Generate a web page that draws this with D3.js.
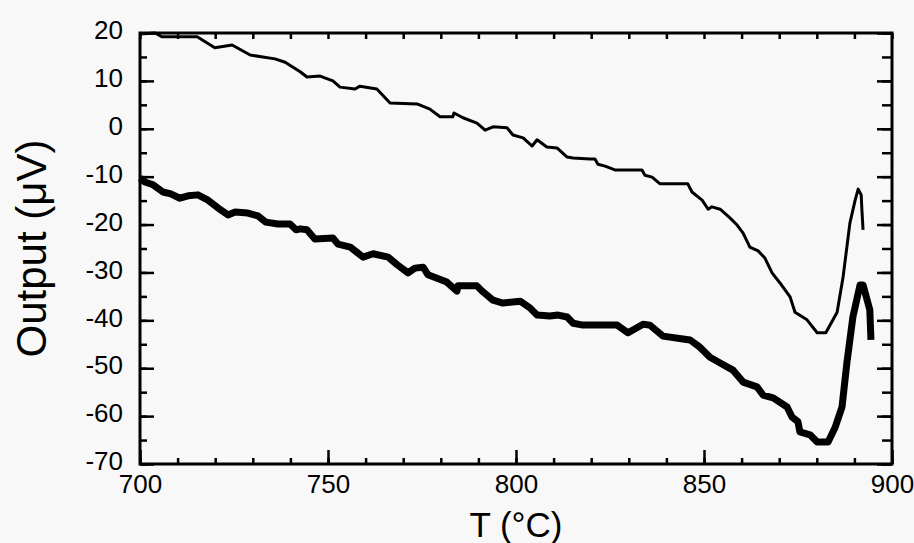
<!DOCTYPE html>
<html>
<head>
<meta charset="utf-8">
<script src="https://cdn.jsdelivr.net/npm/d3@7"></script>
<style>
  html, body { margin: 0; padding: 0; background: #f8f8f8; }
  svg { display: block; font-family: "Liberation Sans", Arial, sans-serif; }
</style>
</head>
<body>
<div id="wrapper"></div>
<script>
// upper (thin) trace
const thinT = [700.0, 704.0, 705.9, 715.2, 719.9, 724.5, 729.3, 735.9, 738.6, 742.6, 744.4, 747.9, 751.3, 753.2, 757.2, 758.5, 763.0, 766.5, 773.7, 777.1, 779.8, 783.2, 783.5, 785.9, 789.6, 791.8, 793.9, 797.6, 799.2, 801.9, 804.3, 805.6, 808.2, 810.9, 813.6, 815.2, 819.7, 821.0, 821.8, 823.7, 826.3, 833.5, 834.3, 836.2, 838.3, 845.7, 846.8, 849.5, 851.1, 852.1, 854.3, 856.9, 858.8, 860.4, 862.2, 864.4, 866.2, 868.1, 870.2, 872.9, 874.2, 877.4, 880.1, 882.4, 885.4, 887.0, 888.8, 890.2, 891.0, 891.8, 892.0, 892.3]
const thinV = [19.8, 20.0, 19.2, 19.2, 16.9, 17.5, 15.4, 14.6, 13.9, 11.9, 10.8, 11.0, 10.0, 8.7, 8.3, 8.9, 8.3, 5.4, 5.2, 4.1, 2.5, 2.5, 3.3, 2.3, 1.2, -0.3, 0.4, 0.2, -1.3, -1.9, -3.6, -2.3, -3.8, -4.0, -5.9, -6.1, -6.3, -6.3, -7.4, -7.8, -8.6, -8.6, -9.7, -10.1, -11.5, -11.5, -13.2, -14.9, -16.8, -16.3, -16.8, -18.6, -20.1, -21.8, -24.7, -25.5, -27.0, -30.1, -32.2, -35.1, -38.3, -39.9, -42.6, -42.6, -38.3, -30.9, -19.7, -14.9, -12.6, -13.8, -17.0, -21.1]

// lower (thick) trace
const thickT = [700.0, 701.3, 703.5, 706.1, 708.2, 710.6, 712.8, 715.4, 718.1, 720.7, 723.4, 725.3, 728.7, 731.4, 733.5, 736.7, 739.9, 741.5, 742.6, 744.4, 746.5, 751.3, 752.7, 755.9, 759.3, 762.0, 766.0, 768.4, 771.3, 773.1, 775.3, 776.6, 781.6, 784.3, 784.6, 789.6, 791.0, 793.9, 796.5, 801.1, 803.7, 805.6, 809.0, 811.2, 813.6, 815.2, 817.8, 822.3, 826.9, 829.8, 833.8, 835.6, 839.1, 844.4, 846.3, 848.9, 851.6, 854.3, 857.7, 860.4, 864.1, 865.7, 868.4, 872.1, 873.4, 875.0, 875.5, 878.2, 880.1, 883.0, 884.8, 886.7, 888.0, 889.6, 891.5, 892.3, 894.1, 894.4]
const thickV = [-10.3, -11.1, -11.7, -13.2, -13.6, -14.5, -14.0, -13.8, -14.9, -16.5, -18.0, -17.4, -17.6, -18.2, -19.5, -19.9, -19.9, -21.1, -20.9, -21.1, -23.0, -22.8, -24.1, -24.7, -26.8, -26.1, -26.8, -28.4, -30.1, -29.1, -28.9, -30.5, -32.0, -33.9, -32.8, -32.8, -33.9, -35.8, -36.4, -36.0, -37.4, -38.9, -39.1, -38.9, -39.3, -40.6, -41.0, -41.0, -41.0, -42.6, -40.8, -41.0, -43.3, -43.9, -44.1, -45.6, -47.7, -48.9, -50.4, -52.9, -53.9, -55.6, -56.2, -58.1, -60.2, -61.2, -63.3, -63.9, -65.4, -65.4, -62.5, -58.1, -48.9, -39.3, -32.6, -32.6, -37.8, -44.1]

const xTicks = [700, 750, 800, 850, 900]
const yTicks = [20, 10, 0, -10, -20, -30, -40, -50, -60, -70]
const xMinor = d3.range(700, 901, 10)
const yMinor = d3.range(-70, 21, 5)

const dimensions = {
    width: 914,
    height: 543,
    margin: { top: 33, right: 22, bottom: 79, left: 140 },
}
dimensions.boundedWidth = dimensions.width - dimensions.margin.left - dimensions.margin.right
dimensions.boundedHeight = dimensions.height - dimensions.margin.top - dimensions.margin.bottom

const wrapper = d3.select("#wrapper")
    .append("svg")
        .attr("width", dimensions.width)
        .attr("height", dimensions.height)
wrapper.append("rect")
    .attr("width", dimensions.width)
    .attr("height", dimensions.height)
    .attr("fill", "#f8f8f8")

const bounds = wrapper.append("g")
    .attr("transform", `translate(${dimensions.margin.left},${dimensions.margin.top})`)

const xScale = d3.scaleLinear().domain([700, 900]).range([0, dimensions.boundedWidth])
const yScale = d3.scaleLinear().domain([-70, 20]).range([dimensions.boundedHeight, 0])

const thin = thinT.map((t, i) => [t, thinV[i]])
const thick = thickT.map((t, i) => [t, thickV[i]])

const lineGenerator = d3.line()
    .x(d => xScale(d[0]))
    .y(d => yScale(d[1]))

bounds.append("path")
    .attr("d", lineGenerator(thin))
    .attr("fill", "none")
    .attr("stroke", "#000")
    .attr("stroke-width", 3)
    .attr("stroke-linejoin", "round")

bounds.append("path")
    .attr("d", lineGenerator(thick))
    .attr("fill", "none")
    .attr("stroke", "#000")
    .attr("stroke-width", 7)
    .attr("stroke-linejoin", "round")

// ticks pointing into the plot on all four sides
function tickAxis(axis, ticks, size, transform) {
    const g = bounds.append("g")
        .attr("transform", transform)
        .call(axis.tickValues(ticks).tickSize(size).tickFormat(""))
    g.select(".domain").remove()
    g.selectAll(".tick line").attr("stroke", "#000").attr("stroke-width", 2.5)
    return g
}
const H = dimensions.boundedHeight, W = dimensions.boundedWidth
tickAxis(d3.axisBottom(xScale), xMinor, -6, `translate(0,${H})`)
tickAxis(d3.axisBottom(xScale), xTicks, -14, `translate(0,${H})`)
tickAxis(d3.axisTop(xScale), xMinor, -6, "translate(0,0)")
tickAxis(d3.axisLeft(yScale), yMinor, -7, "translate(0,0)")
tickAxis(d3.axisLeft(yScale), yTicks, -14, "translate(0,0)")
tickAxis(d3.axisRight(yScale), yMinor, -10, `translate(${W},0)`)
tickAxis(d3.axisRight(yScale), yTicks, -15, `translate(${W},0)`)

// frame
bounds.append("rect")
    .attr("width", W)
    .attr("height", H)
    .attr("fill", "none")
    .attr("stroke", "#000")
    .attr("stroke-width", 3)

// labels (plain hyphen for negatives, as in the original)
const xLabels = bounds.append("g").attr("transform", `translate(0,${H})`)
    .call(d3.axisBottom(xScale).tickValues(xTicks).tickSize(0).tickPadding(11).tickFormat(d => String(d)))
xLabels.select(".domain").remove()
xLabels.selectAll("text").attr("font-size", 26).attr("fill", "#000")
    .attr("font-family", "Liberation Sans, Arial, sans-serif")

const yLabels = bounds.append("g")
    .call(d3.axisLeft(yScale).tickValues(yTicks).tickSize(0).tickPadding(17).tickFormat(d => String(d)))
yLabels.select(".domain").remove()
yLabels.selectAll("text").attr("font-size", 26).attr("fill", "#000")
    .attr("dy", "0.22em")
    .attr("font-family", "Liberation Sans, Arial, sans-serif")

wrapper.append("text")
    .attr("x", dimensions.margin.left + W / 2)
    .attr("y", 537)
    .attr("text-anchor", "middle")
    .attr("font-size", 35)
    .text("T (°C)")

wrapper.append("text")
    .attr("transform", `translate(46,${dimensions.margin.top + H / 2}) rotate(-90)`)
    .attr("text-anchor", "middle")
    .attr("font-size", 42)
    .text("Output (μV)")
</script>
</body>
</html>
